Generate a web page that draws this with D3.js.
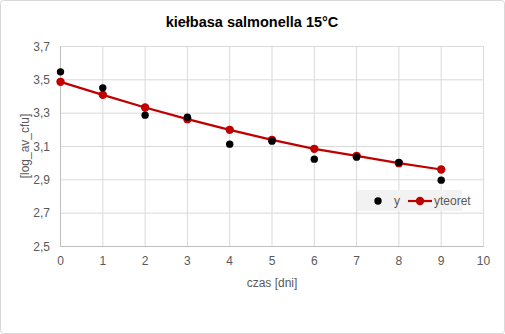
<!DOCTYPE html>
<html><head><meta charset="utf-8">
<script src="https://cdn.jsdelivr.net/npm/d3@7"></script>
<style>body{margin:0;background:#fff}svg{display:block}</style>
</head><body><svg id="c" width="505" height="334"></svg>
<script>
const days = [0,1,2,3,4,5,6,7,8,9];
const yObs = [3.548,3.452,3.288,3.276,3.114,3.132,3.024,3.036,3.004,2.898];
const yTeoret = [3.488,3.41,3.334,3.264,3.2,3.14,3.086,3.044,3.0,2.962];
const xTicks = [0,1,2,3,4,5,6,7,8,9,10];
const yTicks = [2.5,2.7,2.9,3.1,3.3,3.5,3.7];

const svg = d3.select("#c");
svg.append("rect").attr("x",0.5).attr("y",0.5).attr("width",504).attr("height",333)
  .attr("rx",3).attr("fill","#fff").attr("stroke","#d9d9d9");
const x = d3.scaleLinear().domain([0,10]).range([60.5,483.5]);
const y = d3.scaleLinear().domain([2.5,3.7]).range([246.5,46.5]);
const font = "'Liberation Sans Narrow', 'Arial Narrow', sans-serif";
const g = svg.append("g");
g.selectAll(".hg").data(yTicks).join("line").attr("x1",x(0)).attr("x2",x(10))
  .attr("y1",d=>y(d)).attr("y2",d=>y(d)).attr("stroke","#d9d9d9");
g.selectAll(".vg").data(xTicks).join("line").attr("y1",y(2.5)).attr("y2",y(3.7))
  .attr("x1",d=>x(d)).attr("x2",d=>x(d)).attr("stroke","#d9d9d9");
g.append("line").attr("x1",x(0)).attr("x2",x(10)).attr("y1",y(2.5)).attr("y2",y(2.5)).attr("stroke","#bfbfbf");
g.append("line").attr("x1",x(0)).attr("x2",x(0)).attr("y1",y(2.5)).attr("y2",y(3.7)).attr("stroke","#bfbfbf");
const fmt = d => d3.format(".1f")(d).replace(".",",");
g.selectAll(".yl").data(yTicks).join("text").attr("x",50).attr("y",d=>y(d)+4)
  .attr("text-anchor","end").attr("font-family",font).attr("font-size",12).attr("fill","#595959").text(fmt);
g.selectAll(".xl").data(xTicks).join("text").attr("x",d=>x(d)).attr("y",265)
  .attr("text-anchor","middle").attr("font-family",font).attr("font-size",12).attr("fill","#595959").text(d=>d);
svg.append("text").attr("x",252).attr("y",27).attr("text-anchor","middle")
  .attr("font-family","'Liberation Sans', Arial, sans-serif").attr("font-weight","bold").attr("font-size",14.5).attr("fill","#000").text("kiełbasa salmonella 15°C");
svg.append("text").attr("x",272).attr("y",287).attr("text-anchor","middle")
  .attr("font-family",font).attr("font-size",12).attr("fill","#595959").text("czas  [dni]");
svg.append("text").attr("transform","translate(29,146) rotate(-90)").attr("text-anchor","middle")
  .attr("font-family",font).attr("font-size",12).attr("fill","#595959").text("[log_av_cfu]");
const line = d3.line().x((d,i)=>x(days[i])).y(d=>y(d));
g.append("path").datum(yTeoret).attr("d",line).attr("fill","none").attr("stroke","#c00000").attr("stroke-width",2.2);
g.selectAll(".rd").data(yTeoret).join("circle").attr("cx",(d,i)=>x(days[i])).attr("cy",d=>y(d)).attr("r",4.2).attr("fill","#c00000");
g.selectAll(".bd").data(yObs).join("circle").attr("cx",(d,i)=>x(days[i])).attr("cy",d=>y(d)).attr("r",3.7).attr("fill","#000");
// legend
const lg = svg.append("g");
lg.append("rect").attr("x",357).attr("y",190).attr("width",105).attr("height",21).attr("fill","#f2f2f2");
lg.append("circle").attr("cx",378).attr("cy",201).attr("r",3.7).attr("fill","#000");
lg.append("text").attr("x",394).attr("y",205).attr("font-family",font).attr("font-size",12).attr("fill","#595959").text("y");
lg.append("line").attr("x1",408).attr("x2",432).attr("y1",201).attr("y2",201).attr("stroke","#c00000").attr("stroke-width",2.2);
lg.append("circle").attr("cx",420).attr("cy",201).attr("r",4.2).attr("fill","#c00000");
lg.append("text").attr("x",434).attr("y",205).attr("font-family",font).attr("font-size",12).attr("fill","#595959").text("yteoret");
</script></body></html>
